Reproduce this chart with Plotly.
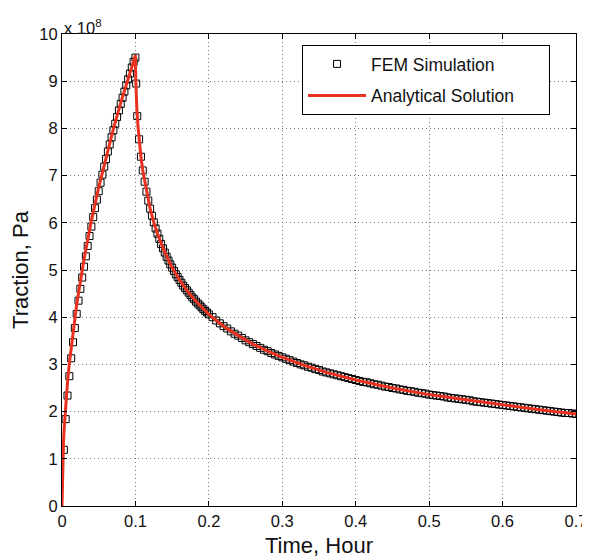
import plotly.graph_objects as go

# Traction values are in units of 1e8 Pa (axis shows "x 10^8")
fem_time_rise = [0.0025, 0.005, 0.0075, 0.01, 0.0125, 0.015, 0.0175, 0.02, 0.0225, 0.025,
                 0.0275, 0.03, 0.0325, 0.035, 0.0375, 0.04, 0.0425, 0.045, 0.0475, 0.05,
                 0.0525, 0.055, 0.0575, 0.06, 0.0625, 0.065, 0.0675, 0.07, 0.0725, 0.075,
                 0.0775, 0.08, 0.0825, 0.085, 0.0875, 0.09, 0.0925, 0.095, 0.0975, 0.1]
fem_traction_rise = [1.19, 1.84, 2.34, 2.75, 3.13, 3.47, 3.77, 4.07, 4.35, 4.60,
                     4.84, 5.07, 5.29, 5.51, 5.72, 5.92, 6.12, 6.31, 6.49, 6.67,
                     6.85, 7.02, 7.19, 7.35, 7.51, 7.66, 7.81, 7.96, 8.10, 8.24,
                     8.38, 8.52, 8.65, 8.78, 8.91, 9.04, 9.16, 9.29, 9.41, 9.50]

fem_time_early = [0.101, 0.1025, 0.105, 0.1075, 0.11, 0.1125, 0.115, 0.1175, 0.12, 0.1225,
                  0.125, 0.1275, 0.13, 0.1325, 0.135, 0.1375, 0.14, 0.1425, 0.145, 0.1475,
                  0.15, 0.1525, 0.155, 0.1575, 0.16, 0.1625, 0.165, 0.1675, 0.17, 0.1725,
                  0.175, 0.1775, 0.18, 0.1825, 0.185, 0.1875, 0.19, 0.1925, 0.195, 0.1975, 0.2]
fem_traction_early = [8.95, 8.26, 7.77, 7.40, 7.11, 6.87, 6.66, 6.47, 6.30, 6.15,
                      6.01, 5.88, 5.77, 5.66, 5.55, 5.46, 5.37, 5.28, 5.20, 5.12,
                      5.05, 4.98, 4.91, 4.85, 4.79, 4.73, 4.67, 4.62, 4.57, 4.52,
                      4.47, 4.42, 4.38, 4.33, 4.29, 4.25, 4.21, 4.17, 4.13, 4.10, 4.06]

fem_time_late = [0.205, 0.21, 0.215, 0.22, 0.225, 0.23, 0.235, 0.24, 0.245, 0.25,
                 0.255, 0.26, 0.265, 0.27, 0.275, 0.28, 0.285, 0.29, 0.295, 0.3,
                 0.305, 0.31, 0.315, 0.32, 0.325, 0.33, 0.335, 0.34, 0.345, 0.35,
                 0.355, 0.36, 0.365, 0.37, 0.375, 0.38, 0.385, 0.39, 0.395, 0.4,
                 0.405, 0.41, 0.415, 0.42, 0.425, 0.43, 0.435, 0.44, 0.445, 0.45,
                 0.455, 0.46, 0.465, 0.47, 0.475, 0.48, 0.485, 0.49, 0.495, 0.5,
                 0.505, 0.51, 0.515, 0.52, 0.525, 0.53, 0.535, 0.54, 0.545, 0.55,
                 0.555, 0.56, 0.565, 0.57, 0.575, 0.58, 0.585, 0.59, 0.595, 0.6,
                 0.605, 0.61, 0.615, 0.62, 0.625, 0.63, 0.635, 0.64, 0.645, 0.65,
                 0.655, 0.66, 0.665, 0.67, 0.675, 0.68, 0.685, 0.69, 0.695, 0.7]
fem_traction_late = [4.00, 3.93, 3.87, 3.81, 3.76, 3.70, 3.65, 3.61, 3.56, 3.51,
                     3.47, 3.43, 3.39, 3.35, 3.31, 3.28, 3.24, 3.21, 3.18, 3.15,
                     3.12, 3.09, 3.06, 3.03, 3.00, 2.98, 2.95, 2.93, 2.90, 2.88,
                     2.85, 2.83, 2.81, 2.79, 2.77, 2.75, 2.73, 2.71, 2.69, 2.67,
                     2.65, 2.63, 2.62, 2.60, 2.58, 2.57, 2.55, 2.53, 2.52, 2.50,
                     2.49, 2.47, 2.46, 2.44, 2.43, 2.42, 2.40, 2.39, 2.38, 2.36,
                     2.35, 2.34, 2.33, 2.32, 2.30, 2.29, 2.28, 2.27, 2.26, 2.25,
                     2.24, 2.22, 2.21, 2.20, 2.19, 2.18, 2.17, 2.16, 2.15, 2.14,
                     2.13, 2.12, 2.11, 2.10, 2.09, 2.08, 2.07, 2.06, 2.05, 2.04,
                     2.03, 2.02, 2.01, 2.00, 1.99, 1.98, 1.97, 1.97, 1.96, 1.95]

analytical_time = [0, 0.0005, 0.001, 0.002, 0.003, 0.005, 0.0075, 0.01, 0.015, 0.02,
                   0.03, 0.04, 0.05, 0.06, 0.07, 0.08, 0.09, 0.1, 0.1005, 0.101,
                   0.102, 0.1035, 0.105, 0.1075, 0.11, 0.115, 0.12, 0.125, 0.13, 0.14,
                   0.15, 0.16, 0.17, 0.18, 0.19, 0.2, 0.22, 0.24, 0.26, 0.28,
                   0.3, 0.33, 0.36, 0.4, 0.45, 0.5, 0.55, 0.6, 0.65, 0.7]
analytical_traction = [0, 0.68, 0.96, 1.35, 1.65, 2.14, 2.62, 3.02, 3.70, 4.27,
                       5.23, 6.04, 6.75, 7.40, 7.99, 8.54, 9.06, 9.55, 9.00, 8.75,
                       8.40, 8.04, 7.76, 7.40, 7.11, 6.66, 6.30, 6.01, 5.77, 5.37,
                       5.05, 4.79, 4.57, 4.38, 4.21, 4.06, 3.81, 3.61, 3.43, 3.28,
                       3.15, 2.98, 2.83, 2.67, 2.50, 2.36, 2.25, 2.14, 2.04, 1.95]

x_ticks = [0, 0.1, 0.2, 0.3, 0.4, 0.5, 0.6, 0.7]
y_ticks = [0, 1, 2, 3, 4, 5, 6, 7, 8, 9, 10]

fem_time = fem_time_rise + fem_time_early + fem_time_late
fem_traction = fem_traction_rise + fem_traction_early + fem_traction_late

FONT = "Liberation Sans, Arial, Helvetica, sans-serif"
PAD = "\u00a0" * 6 + "\u200b"   # keeps the legend box as wide as the reference

fig = go.Figure()
fig.add_trace(go.Scatter(
    x=fem_time, y=fem_traction, mode="markers", name="FEM Simulation",
    legendgroup="a",
    marker=dict(symbol="square-open", size=7, color="black", line=dict(width=1, color="black")),
))
fig.add_trace(go.Scatter(
    x=analytical_time, y=analytical_traction, mode="lines",
    name="Analytical Solution" + PAD,
    legendgroup="b",
    line=dict(color="#e8311f", width=3),
))

axis_common = dict(
    showline=True, linecolor="black", linewidth=1, mirror="allticks",
    ticks="inside", ticklen=5, tickcolor="black",
    showgrid=True, gridcolor="#777777", gridwidth=1, griddash="1px,3px",
    zeroline=False, tickfont=dict(family=FONT, size=16.5, color="#111"),
    automargin=False,
)

# The page body adds an 8px offset, so the figure is sized 582x550.
fig.update_layout(
    width=582, height=550,
    margin=dict(l=54, r=14, t=26, b=52),
    paper_bgcolor="white", plot_bgcolor="white",
    font=dict(family=FONT, color="#111"),
    xaxis=dict(range=[0, 0.7], tickvals=x_ticks, ticktext=[f"{v:g}" for v in x_ticks],
               title=dict(text="Time, Hour", font=dict(family=FONT, size=22, color="#111"), standoff=8),
               **axis_common),
    yaxis=dict(range=[0, 10], tickvals=y_ticks, ticktext=[str(v) for v in y_ticks],
               title=dict(text="Traction, Pa", font=dict(family=FONT, size=22, color="#111"), standoff=8),
               **axis_common),
    legend=dict(x=0.467, y=0.9767, xanchor="left", yanchor="top",
                bgcolor="white", bordercolor="black", borderwidth=1,
                font=dict(family=FONT, size=17.5, color="#111"),
                traceorder="grouped", tracegroupgap=6, itemwidth=58),
    showlegend=True,
)

fig.add_annotation(
    xref="paper", yref="paper", x=0, y=1, xanchor="left", yanchor="bottom",
    text="x 10<sup>8</sup>", showarrow=False,
    font=dict(family=FONT, size=16.5, color="#111"), yshift=-5,
)

fig.write_html("out.html")
